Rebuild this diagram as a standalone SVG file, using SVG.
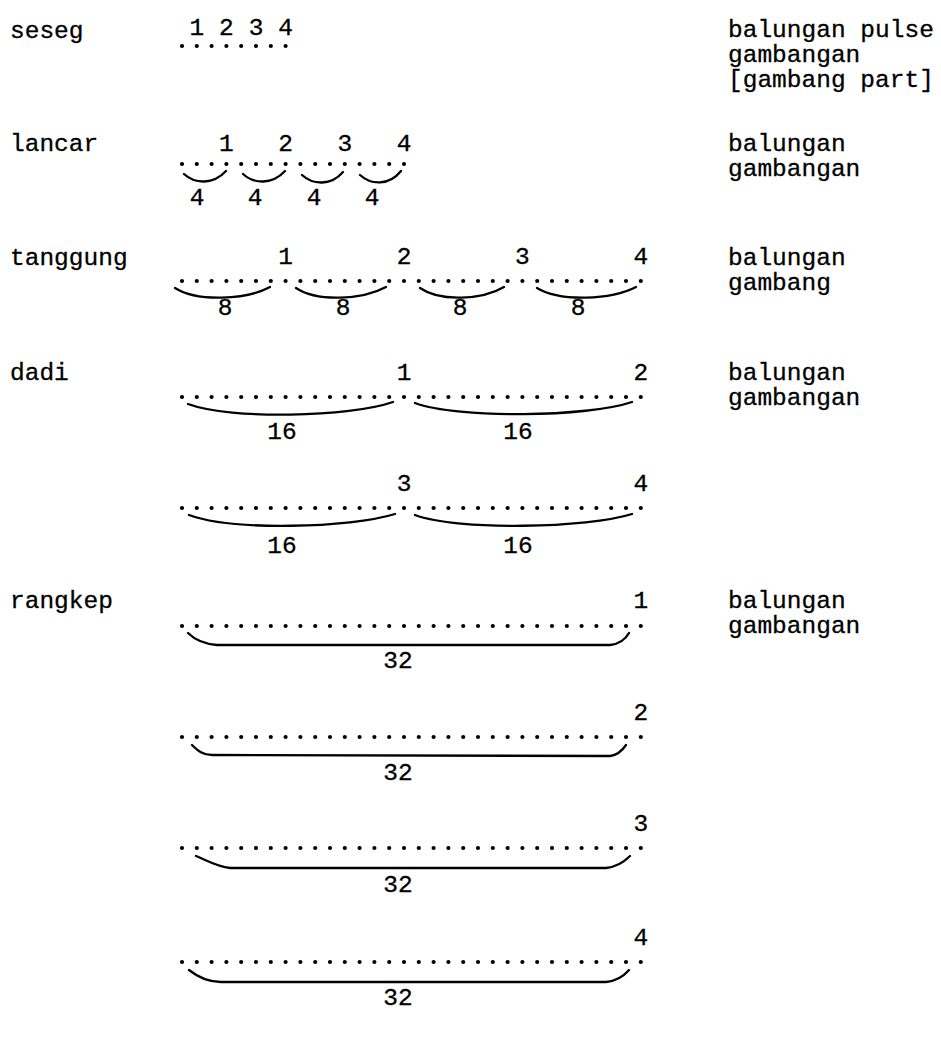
<svg xmlns="http://www.w3.org/2000/svg" width="941" height="1039" viewBox="0 0 941 1039">
<style>
text{font-family:"Liberation Mono","DejaVu Sans Mono",monospace;font-size:24.5px;fill:#000;stroke:#000;stroke-width:0.3}
.n{text-anchor:middle}
.d{stroke:#000;stroke-width:4.2;stroke-linecap:round;fill:none;stroke-dasharray:0 14.8}
.a{stroke:#000;stroke-width:2.3;fill:none;stroke-linecap:round}
</style>
<rect width="941" height="1039" fill="#fff"/>
<g id="seseg">
<text x="10" y="38">seseg</text>
<text class="n" x="196.8" y="35">1</text><text class="n" x="226.4" y="35">2</text><text class="n" x="256" y="35">3</text><text class="n" x="285.6" y="35">4</text>
<line class="d" x1="182" y1="46" x2="286.4" y2="46"/>
<text x="728" y="37">balungan pulse</text>
<text x="728" y="62">gambangan</text>
<text x="728" y="87">[gambang part]</text>
</g>
<g id="lancar">
<text x="10" y="151">lancar</text>
<text class="n" x="226.4" y="151">1</text><text class="n" x="285.6" y="151">2</text><text class="n" x="344.8" y="151">3</text><text class="n" x="404" y="151">4</text>
<line class="d" x1="182" y1="164" x2="404.8" y2="164"/>
<path class="a" d="M184,174 C195,184 213,185 226,171 M243,174 C254,184 272,185 285,171 M302,175 C313,185 331,186 343,172 M360,175 C371,185 389,186 401,171"/>
<text class="n" x="197" y="205">4</text><text class="n" x="255" y="205">4</text><text class="n" x="314" y="205">4</text><text class="n" x="372" y="205">4</text>
<text x="728" y="151">balungan</text>
<text x="728" y="176">gambangan</text>
</g>
<g id="tanggung">
<text x="10" y="265">tanggung</text>
<text class="n" x="285.6" y="264">1</text><text class="n" x="404" y="264">2</text><text class="n" x="522.4" y="264">3</text><text class="n" x="640.8" y="264">4</text>
<line class="d" x1="182" y1="281" x2="641.6" y2="281"/>
<path class="a" d="M175,288 C197,302 246,300 270,287 M296,288 C317,302 362,300 386,287 M420,288 C440,302 482,300 504,287 M537,288 C560,302 611,300 636,287"/>
<text class="n" x="225" y="315">8</text><text class="n" x="343" y="315">8</text><text class="n" x="460" y="315">8</text><text class="n" x="578" y="315">8</text>
<text x="728" y="265">balungan</text>
<text x="728" y="290">gambang</text>
</g>
<g id="dadi">
<text x="10" y="380">dadi</text>
<text class="n" x="404" y="380">1</text><text class="n" x="640.8" y="380">2</text>
<line class="d" x1="182" y1="397" x2="641.6" y2="397"/>
<path class="a" d="M188,404 C231,420 350,417 393,402 M415,403 C458,419 588,417 632,402"/>
<text class="n" x="282" y="439">16</text><text class="n" x="518" y="439">16</text>
<text x="728" y="380">balungan</text>
<text x="728" y="405">gambangan</text>
<text class="n" x="404" y="491">3</text><text class="n" x="640.8" y="491">4</text>
<line class="d" x1="182" y1="508" x2="641.6" y2="508"/>
<path class="a" d="M189,515 C232,531 350,528 395,514 M415,515 C458,531 588,528 632,514"/>
<text class="n" x="282" y="553">16</text><text class="n" x="518" y="553">16</text>
</g>
<g id="rangkep">
<text x="10" y="608">rangkep</text>
<text x="728" y="608">balungan</text>
<text x="728" y="633">gambangan</text>
<text class="n" x="640.8" y="608">1</text>
<line class="d" x1="182" y1="626" x2="641.6" y2="626"/>
<path class="a" d="M188,633 C196,641 205,644 217,645 L610,645 C620,644 625,640 629,633"/>
<text class="n" x="398" y="668">32</text>
<text class="n" x="640.8" y="720">2</text>
<line class="d" x1="182" y1="737" x2="641.6" y2="737"/>
<path class="a" d="M192,745 C198,751 203,755 212,755 L610,756 C618,755 622,751 626,745"/>
<text class="n" x="398" y="780">32</text>
<text class="n" x="640.8" y="831">3</text>
<line class="d" x1="182" y1="848" x2="641.6" y2="848"/>
<path class="a" d="M196,856 C208,861 218,867 230,868 L606,868 C616,867 624,862 630,856"/>
<text class="n" x="398" y="892">32</text>
<text class="n" x="640.8" y="945">4</text>
<line class="d" x1="182" y1="962" x2="641.6" y2="962"/>
<path class="a" d="M189,970 C199,978 209,982 221,982 L606,982 C616,981 623,977 629,970"/>
<text class="n" x="398" y="1005">32</text>
</g>
</svg>
